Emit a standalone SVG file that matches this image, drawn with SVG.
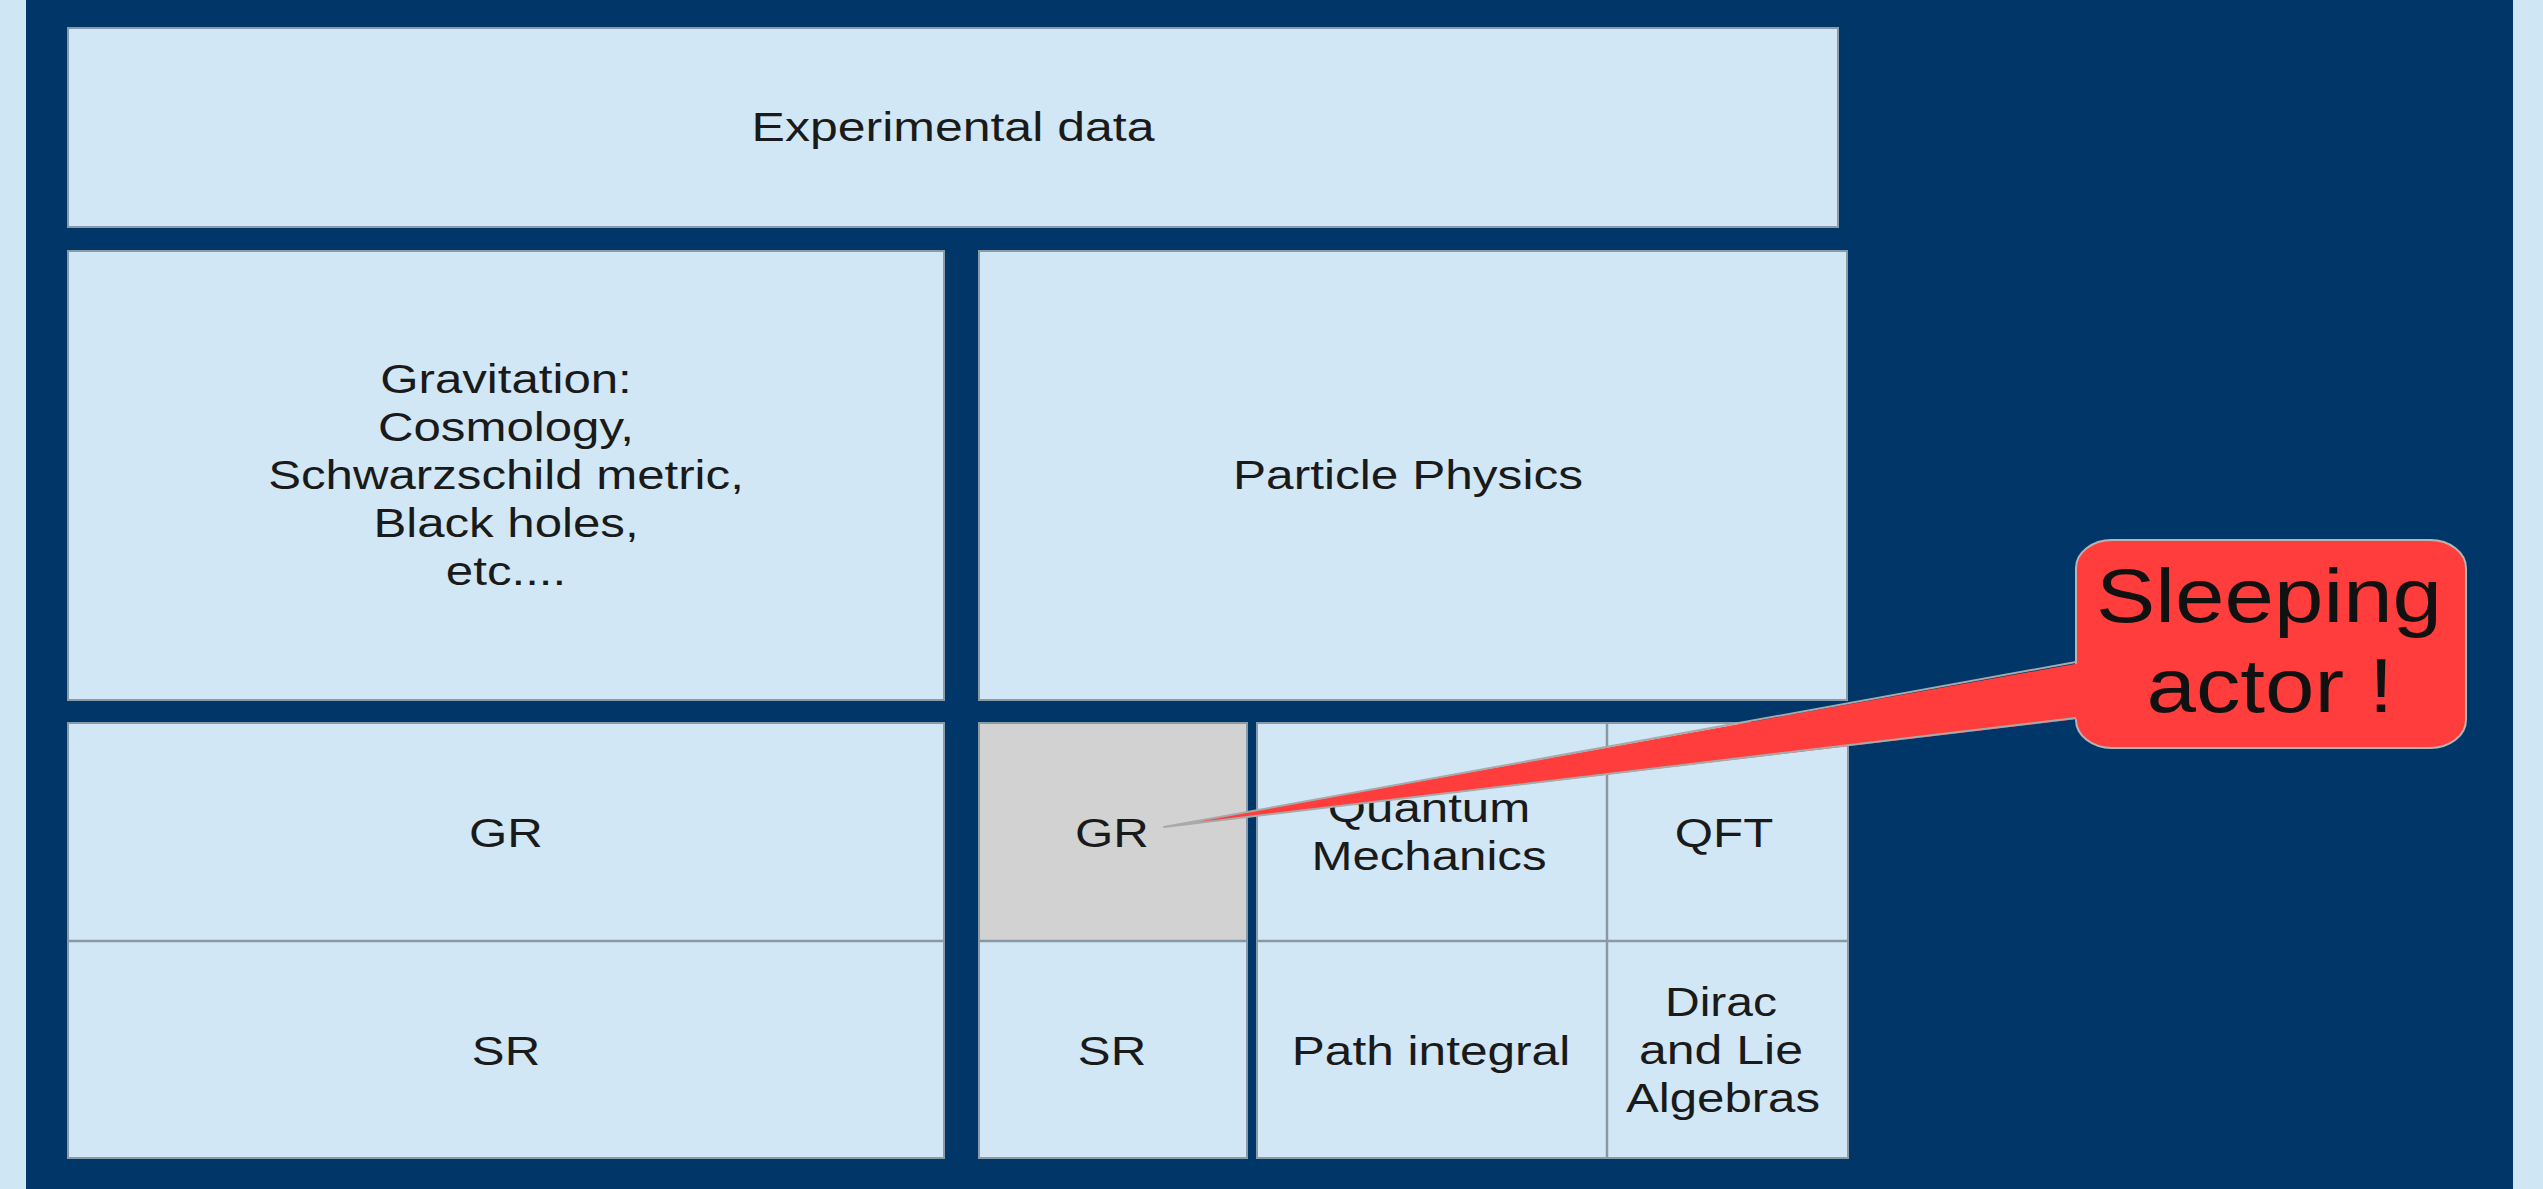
<svg xmlns="http://www.w3.org/2000/svg" width="2543" height="1189" viewBox="0 0 2543 1189">
<style>
.bg{fill:#cfe6f4}
.navy{fill:#003768}
.box{fill:#d1e7f5;stroke:#8a9aa6;stroke-width:2}
.gray{fill:#d2d2d2;stroke:#8a9aa6;stroke-width:2}
.div{stroke:#8a98a3;stroke-width:2.5;fill:none}
.t{font-family:"Liberation Sans",Arial,sans-serif;font-size:40px;fill:#1a1a1a;text-anchor:middle}
.tb{font-family:"Liberation Sans",Arial,sans-serif;font-size:76px;fill:#111;text-anchor:middle}
.red{fill:#ff3d3d}
.redline{fill:none;stroke:#a9a9a9;stroke-width:2;stroke-linejoin:round}
</style>
<rect class="bg" x="0" y="0" width="2543" height="1189"/>
<rect class="navy" x="26" y="0" width="2487" height="1189"/>

<g id="experimental-data">
<rect class="box" x="68" y="28" width="1770" height="199"/>
<text class="t" transform="translate(953,141) scale(1.25,1)">Experimental data</text>
</g>

<g id="gravitation">
<rect class="box" x="68" y="251" width="876" height="449"/>
<text class="t" transform="translate(506,393) scale(1.23,1)">Gravitation:</text>
<text class="t" transform="translate(506,441) scale(1.23,1)">Cosmology,</text>
<text class="t" transform="translate(506,489) scale(1.23,1)">Schwarzschild metric,</text>
<text class="t" transform="translate(506,537) scale(1.23,1)">Black holes,</text>
<text class="t" transform="translate(506,585) scale(1.23,1)">etc....</text>
</g>

<g id="particle-physics">
<rect class="box" x="979" y="251" width="868" height="449"/>
<text class="t" transform="translate(1408,489) scale(1.24,1)">Particle Physics</text>
</g>

<g id="left-gr-sr">
<rect class="box" x="68" y="723" width="876" height="435"/>
<line class="div" x1="68" y1="941" x2="944" y2="941"/>
<text class="t" transform="translate(506,847) scale(1.23,1)">GR</text>
<text class="t" transform="translate(506,1065) scale(1.23,1)">SR</text>
</g>

<g id="right-gr-sr">
<rect class="box" x="979" y="723" width="268" height="435"/>
<rect class="gray" x="979" y="723" width="268" height="218"/>
<line class="div" x1="979" y1="941" x2="1247" y2="941"/>
<text class="t" transform="translate(1112,847) scale(1.23,1)">GR</text>
<text class="t" transform="translate(1112,1065) scale(1.23,1)">SR</text>
</g>

<g id="quantum">
<rect class="box" x="1257" y="723" width="591" height="435"/>
<line class="div" x1="1257" y1="941" x2="1848" y2="941"/>
<line class="div" x1="1607" y1="723" x2="1607" y2="1158"/>
<text class="t" transform="translate(1429,822) scale(1.23,1)">Quantum</text>
<text class="t" transform="translate(1429,870) scale(1.23,1)">Mechanics</text>
<text class="t" transform="translate(1724,847) scale(1.23,1)">QFT</text>
<text class="t" transform="translate(1431,1065) scale(1.24,1)">Path integral</text>
<text class="t" transform="translate(1721,1016) scale(1.2,1)">Dirac</text>
<text class="t" transform="translate(1721,1064) scale(1.25,1)">and Lie</text>
<text class="t" transform="translate(1723,1112) scale(1.23,1)">Algebras</text>
</g>

<g id="sleeping-actor">
<rect class="red" x="2076" y="540" width="390" height="208" rx="36" ry="28" stroke="#b5b5b5" stroke-width="2"/>
<text class="tb" transform="translate(2269,622) scale(1.17,1)">Sleeping</text>
<text class="tb" transform="translate(2270,712) scale(1.17,1)">actor !</text>
</g>

<g id="connectors">
<polygon class="red" points="2086,662 1164,827 2086,718"/>
<polyline class="redline" points="2076,662 1164,827 2076,718"/>
</g>
</svg>
